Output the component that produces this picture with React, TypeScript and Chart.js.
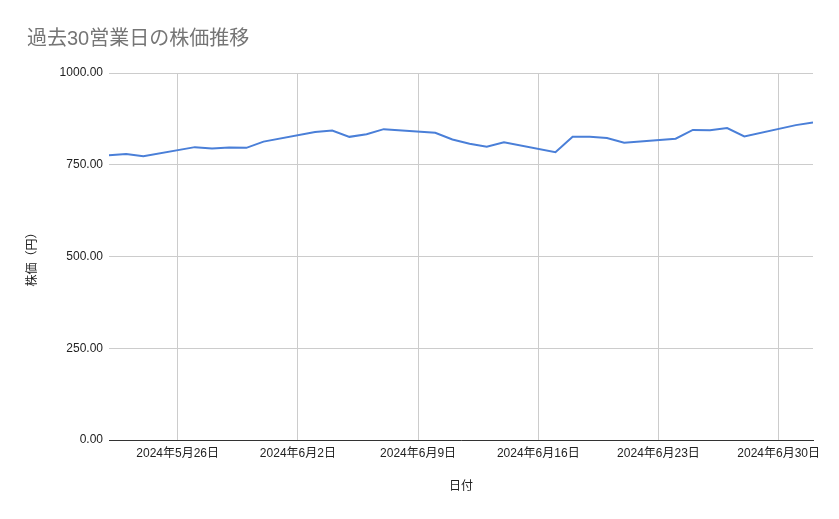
import { useEffect, useRef } from "react"
import { Chart, registerables } from "chart.js"

Chart.register(...registerables)

// x range of the axis (calendar days)
const startDate = "2024-05-22"
const endDate = "2024-07-02"

// business days and closing prices
const tradeDates = [
  "2024-05-22", "2024-05-23", "2024-05-24",
  "2024-05-27", "2024-05-28", "2024-05-29", "2024-05-30", "2024-05-31",
  "2024-06-03", "2024-06-04", "2024-06-05", "2024-06-06", "2024-06-07",
  "2024-06-10", "2024-06-11", "2024-06-12", "2024-06-13", "2024-06-14",
  "2024-06-17", "2024-06-18", "2024-06-19", "2024-06-20", "2024-06-21",
  "2024-06-24", "2024-06-25", "2024-06-26", "2024-06-27", "2024-06-28",
  "2024-07-01", "2024-07-02",
]
const prices = [
  776, 779, 773,
  798, 794, 797, 796, 813,
  839, 843, 826, 833, 847,
  837, 819, 807, 799, 811,
  784, 826, 826, 823, 810,
  821, 845, 844, 850, 827,
  858, 865,
]

const xTickDates = ["2024-05-26", "2024-06-02", "2024-06-09", "2024-06-16", "2024-06-23", "2024-06-30"]
const yTicks = [0, 250, 500, 750, 1000]

const DAY = 86400000
const t0 = Date.parse(startDate + "T00:00:00Z")
const dayIndex = (d: string) => (Date.parse(d + "T00:00:00Z") - t0) / DAY
const formatDate = (i: number) => {
  const d = new Date(t0 + i * DAY)
  return `${d.getUTCFullYear()}年${d.getUTCMonth() + 1}月${d.getUTCDate()}日`
}

const FONT = "Arial, 'Liberation Sans', 'Noto Sans CJK JP', sans-serif"

export default function App() {
  const chartRef = useRef<HTMLCanvasElement>(null)
  const chartInstance = useRef<Chart | null>(null)

  useEffect(() => {
    if (!chartRef.current) return
    if (chartInstance.current) chartInstance.current.destroy()
    const ctx = chartRef.current.getContext("2d")
    if (!ctx) return

    chartInstance.current = new Chart(ctx, {
      type: "line",
      data: {
        datasets: [
          {
            label: "株価",
            data: tradeDates.map((d, i) => ({ x: dayIndex(d), y: prices[i] })),
            borderColor: "#4a7fd8",
            borderWidth: 2,
            pointRadius: 0,
            tension: 0,
          },
        ],
      },
      options: {
        animation: false,
        responsive: true,
        maintainAspectRatio: false,
        layout: { padding: { left: 27, right: 26, top: 0, bottom: 0 } },
        plugins: {
          legend: { display: false },
          tooltip: { enabled: false },
          title: {
            display: true,
            text: "過去30営業日の株価推移",
            align: "start",
            color: "#757575",
            font: { family: FONT, size: 20, weight: "normal" },
            padding: { top: 27, bottom: 22 },
          },
        },
        scales: {
          x: {
            type: "linear",
            min: 0,
            max: dayIndex(endDate),
            afterBuildTicks: (s: any) => {
              s.ticks = xTickDates.map((d) => ({ value: dayIndex(d) }))
            },
            afterFit: (s: any) => {
              s.height = 79
            },
            ticks: {
              callback: (v: any) => formatDate(Number(v)),
              autoSkip: false,
              maxRotation: 0,
              padding: 6,
              color: "#222",
              font: { family: FONT, size: 12 },
            },
            grid: { color: "#cccccc", drawTicks: false },
            border: { color: "#333333", width: 1 },
            title: {
              display: true,
              text: "日付",
              color: "#222",
              font: { family: FONT, size: 12 },
              padding: { top: 0, bottom: 25 },
            },
          },
          y: {
            min: 0,
            max: 1000,
            afterBuildTicks: (s: any) => {
              s.ticks = yTicks.map((v) => ({ value: v }))
            },
            afterFit: (s: any) => {
              s.width = 82
            },
            ticks: {
              callback: (v: any) => Number(v).toFixed(2),
              padding: 6,
              color: "#222",
              font: { family: FONT, size: 12 },
            },
            grid: { color: "#cccccc", drawTicks: false },
            border: { display: false },
            title: {
              display: true,
              text: "株価（円）",
              color: "#222",
              font: { family: FONT, size: 12 },
              padding: { top: -2, bottom: 0 },
            },
          },
        },
      },
    })

    return () => {
      if (chartInstance.current) {
        chartInstance.current.destroy()
        chartInstance.current = null
      }
    }
  }, [])

  return (
    <div style={{ position: "fixed", left: 0, top: 0, width: 839, height: 519, background: "#fff" }}>
      <canvas ref={chartRef}></canvas>
    </div>
  )
}
